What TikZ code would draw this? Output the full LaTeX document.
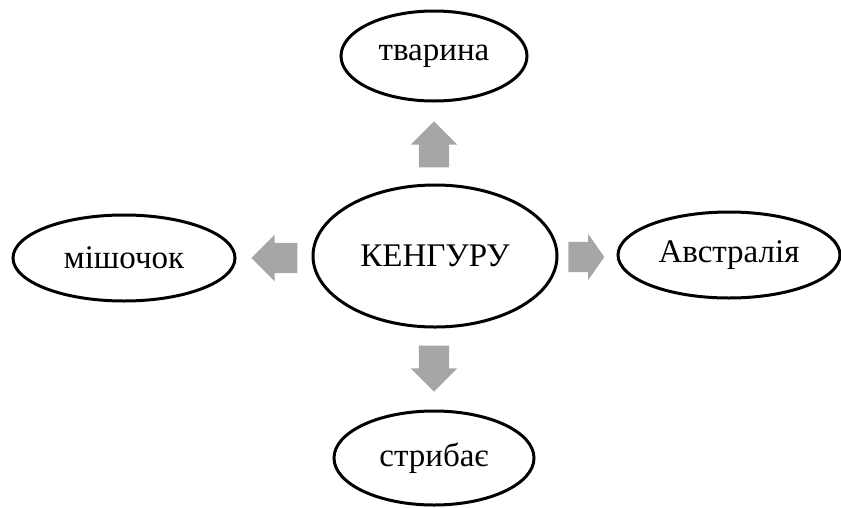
\documentclass[tikz,border=0pt]{standalone}
\usepackage{fontspec}
\setmainfont{Liberation Serif}
\usetikzlibrary{shapes.geometric}
\usetikzlibrary{shapes.arrows}
\definecolor{arrowgray}{RGB}{166,166,166}
\tikzset{
  bubble/.style={ellipse, draw, line width=3pt, inner sep=0pt,
    font=\fontsize{33}{40}\selectfont},
  blockarrow/.style={single arrow, fill=arrowgray, draw=none,
    inner xsep=0pt, inner ysep=15pt, minimum height=46pt, minimum width=46pt,
    single arrow head extend=8pt},
  blockarrowv/.style={blockarrow, inner xsep=15pt, inner ysep=0pt}
}
\begin{document}
\begin{tikzpicture}[x=1pt, y=-1pt]
    \useasboundingbox (0, 0) rectangle (841, 507);

    \node [bubble, minimum width=244pt, minimum height=142pt] (kangaroo) at (435, 256) {КЕНГУРУ};

    \node [bubble, minimum width=186pt, minimum height=90pt] (animal) at (434, 56) {тварина};
    \node [bubble, minimum width=222pt, minimum height=86pt] (pouch) at (124, 258) {мішочок};
    \node [bubble, minimum width=222pt, minimum height=86pt] (australia) at (729, 255) {Австралія};
    \node [bubble, minimum width=200pt, minimum height=94pt] (jumps) at (434, 458) {стрибає};

    \node [blockarrowv, shape border rotate=90] (up) at (434, 152) {};
    \node [blockarrowv, shape border rotate=270] (down) at (434, 361) {};
    \node [blockarrow, shape border rotate=180] (left) at (282, 258) {};
    \node [blockarrow, shape border rotate=0, minimum height=36pt, single arrow tip angle=110] (right) at (581, 257) {};
\end{tikzpicture}
\end{document}
